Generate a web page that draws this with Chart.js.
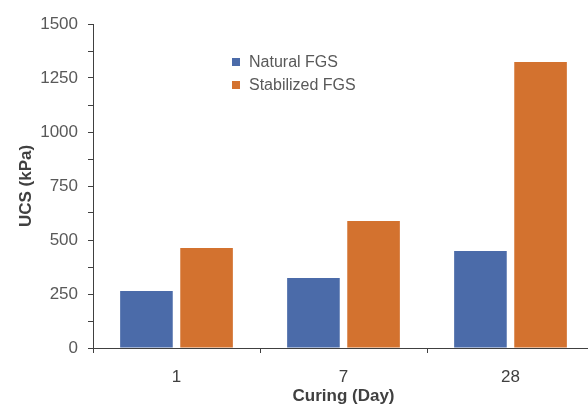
<!DOCTYPE html>
<html>
<head>
<meta charset="utf-8">
<script src="https://cdn.jsdelivr.net/npm/chart.js@4/dist/chart.umd.min.js"></script>
<style>
  html, body { margin: 0; padding: 0; background: #fff; overflow: hidden; }
  #box { width: 594px; height: 405px; position: relative; }
</style>
</head>
<body>
<div id="box"><canvas id="grafico"></canvas></div>
<script>
const categorias = ['1', '7', '28'];
const natural = [264, 324, 449];
const estabilizado = [463, 588, 1324];
const ticksY = [0, 250, 500, 750, 1000, 1250, 1500];

const corAzul = '#4b6ba9';
const corLaranja = '#d3722f';
const fonte = "'Liberation Sans', Arial, sans-serif";

// legenda desenhada dentro da area do grafico
const legendaInterna = {
  id: 'legendaInterna',
  afterDraw(chart) {
    const ctx = chart.ctx;
    ctx.save();
    ctx.font = '16px ' + fonte;
    ctx.textBaseline = 'middle';
    chart.data.datasets.forEach((ds, i) => {
      const y = 62 + i * 23;
      ctx.fillStyle = ds.backgroundColor;
      ctx.fillRect(232, y - 4, 8, 8);
      ctx.fillStyle = '#595959';
      ctx.fillText(ds.label, 249, y + 1);
    });
    ctx.restore();
  }
};

const ctx = document.getElementById('grafico');
new Chart(ctx, {
  type: 'bar',
  data: {
    labels: categorias,
    datasets: [
      {
        label: 'Natural FGS',
        data: natural,
        backgroundColor: corAzul,
        categoryPercentage: 0.72,
        barPercentage: 0.875
      },
      {
        label: 'Stabilized FGS',
        data: estabilizado,
        backgroundColor: corLaranja,
        categoryPercentage: 0.72,
        barPercentage: 0.875
      }
    ]
  },
  options: {
    responsive: true,
    maintainAspectRatio: false,
    animation: false,
    layout: { padding: { top: 24, right: 0, left: 0, bottom: 0 } },
    plugins: {
      legend: { display: false },
      tooltip: { enabled: false }
    },
    scales: {
      x: {
        grid: { display: true, drawOnChartArea: false, tickLength: 5, color: '#404040', offset: true },
        border: { color: '#404040', width: 1 },
        ticks: { color: '#404040', font: { family: fonte, size: 17 }, padding: 14 },
        title: {
          display: true,
          text: 'Curing (Day)',
          color: '#404040',
          font: { family: fonte, size: 17, weight: 'bold' },
          padding: { top: 0, bottom: -2 }
        },
        afterFit: (scale) => { scale.height = 57; }
      },
      y: {
        min: 0,
        max: 1500,
        grid: { display: true, drawOnChartArea: false, tickLength: 5, color: '#404040' },
        border: { color: '#404040', width: 1 },
        ticks: {
          stepSize: 125,
          autoSkip: false,
          padding: 10,
          color: '#595959',
          font: { family: fonte, size: 17 },
          callback: (v) => ticksY.includes(v) ? v : ''
        },
        title: {
          display: true,
          text: 'UCS (kPa)',
          color: '#404040',
          font: { family: fonte, size: 17, weight: 'bold' },
          padding: { top: 16, bottom: 0 }
        },
        afterFit: (scale) => { scale.width = 93; }
      }
    }
  },
  plugins: [legendaInterna]
});
</script>
</body>
</html>
